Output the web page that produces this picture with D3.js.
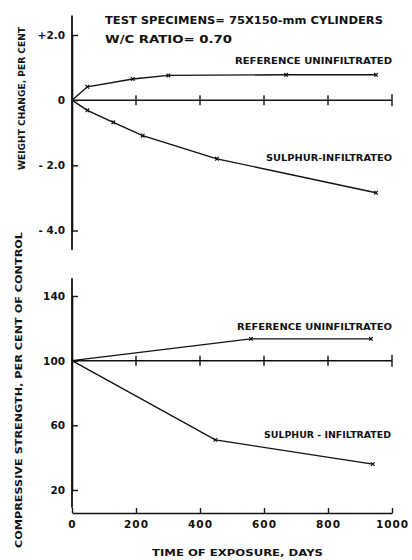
<!DOCTYPE html>
<html>
<head>
<meta charset="utf-8">
<script src="https://cdn.jsdelivr.net/npm/d3@7/dist/d3.min.js"></script>
<style>
  body { margin: 0; background: #fff; }
  svg { display: block; }
  text { font-family: "DejaVu Sans", sans-serif; font-weight: bold; fill: #111; }
</style>
</head>
<body>
<div id="chart"></div>
<script>
'use strict';

// 重量变化 (上图)
const weightRefDays = [0, 48, 190, 301, 669, 950];
const weightRefValues = [0, 0.41, 0.65, 0.76, 0.78, 0.78];
const weightSulDays = [0, 48, 129, 221, 453, 950];
const weightSulValues = [0, -0.31, -0.68, -1.09, -1.80, -2.84];

// 抗压强度 (下图)
const strengthRefDays = [0, 559, 934];
const strengthRefValues = [100, 113.5, 113.5];
const strengthSulDays = [0, 448, 940];
const strengthSulValues = [100, 51, 36];

const xTicks = [0, 200, 400, 600, 800, 1000];
const weightTicks = [2, 0, -2, -4];
const weightTickLabels = ['+2.0', '0', '- 2.0', '- 4.0'];
const strengthTicks = [140, 100, 60, 20];

(function () {
    const width = 412;
    const height = 560;

    var svg = d3.select('#chart').append('svg')
        .attr('width', width)
        .attr('height', height);

    var x = d3.scaleLinear().domain([0, 1000]).range([72, 392]);
    var yTop = d3.scaleLinear().domain([-4, 2]).range([230.5, 35]);
    var yBot = d3.scaleLinear().domain([20, 140]).range([490, 296]);

    // 坐标轴竖线
    vLine(x(0), yTop(2.6), yTop(-4.6));
    vLine(x(0), yBot(151), yBot(9));

    // y 轴刻度
    var topAxis = d3.axisLeft(yTop)
        .tickValues(weightTicks)
        .tickSizeInner(-6)
        .tickSizeOuter(0)
        .tickPadding(7)
        .tickFormat(function (d, i) { return weightTickLabels[i]; });
    var gTop = svg.append('g').attr('transform', 'translate(' + x(0) + ',0)').call(topAxis);
    styleAxis(gTop);

    var botAxis = d3.axisLeft(yBot)
        .tickValues(strengthTicks)
        .tickSizeInner(-6)
        .tickSizeOuter(0)
        .tickPadding(7);
    var gBot = svg.append('g').attr('transform', 'translate(' + x(0) + ',0)').call(botAxis);
    styleAxis(gBot);

    // x 轴
    var xAxis = d3.axisBottom(x)
        .tickValues(xTicks)
        .tickSizeInner(-5)
        .tickSizeOuter(0)
        .tickPadding(8)
        .tickFormat(d3.format('d'));
    var gX = svg.append('g').attr('transform', 'translate(0,513)').call(xAxis);
    styleAxis(gX);
    gX.selectAll('.tick text').attr('letter-spacing', '1px');

    // 零线 / 100 线 带刻度
    baseLine(yTop(0));
    baseLine(yBot(100));

    // 数据线
    series(weightRefDays, weightRefValues, yTop);
    series(weightSulDays, weightSulValues, yTop);
    series(strengthRefDays, strengthRefValues, yBot);
    series(strengthSulDays, strengthSulValues, yBot);

    // 文字
    label('TEST SPECIMENS= 75X150-mm CYLINDERS', 105, 24, 10, 278);
    label('W/C RATIO= 0.70', 105, 43, 10, 127);
    label('REFERENCE  UNINFILTRATED', 235, 64, 8, 157);
    label('SULPHUR-INFILTRATEO', 266, 161, 8.5, 126);
    label('REFERENCE  UNINFILTRATEO', 237, 330, 8, 155);
    label('SULPHUR - INFILTRATED', 264, 438, 8.5, 127);
    label('TIME OF EXPOSURE, DAYS', 152, 556, 8.5, 171);

    svg.append('text')
        .attr('transform', 'translate(25,170) rotate(-90)')
        .attr('font-size', 9)
        .attr('textLength', 143)
        .attr('lengthAdjust', 'spacingAndGlyphs')
        .text('WEIGHT CHANGE, PER CENT');

    svg.append('text')
        .attr('transform', 'translate(22,548) rotate(-90)')
        .attr('font-size', 9)
        .attr('textLength', 316)
        .attr('lengthAdjust', 'spacingAndGlyphs')
        .text('COMPRESSIVE STRENGTH, PER CENT OF CONTROL');

    function styleAxis(g) {
        g.select('.domain').attr('stroke', '#111').attr('stroke-width', 1.6);
        g.selectAll('.tick line').attr('stroke', '#111').attr('stroke-width', 1.4);
        g.selectAll('.tick text')
            .attr('fill', '#111')
            .style('font-family', '"DejaVu Sans", sans-serif')
            .style('font-weight', 'bold')
            .style('font-size', '10.5px');
    }

    function vLine(px, y1, y2) {
        svg.append('line')
            .attr('x1', px).attr('x2', px)
            .attr('y1', y1).attr('y2', y2)
            .attr('stroke', '#111').attr('stroke-width', 1.8);
    }

    function baseLine(py) {
        svg.append('line')
            .attr('x1', x(0)).attr('x2', x(1000))
            .attr('y1', py).attr('y2', py)
            .attr('stroke', '#111').attr('stroke-width', 1.5);
        xTicks.slice(1).forEach(function (t) {
            var h = t === 1000 ? 6 : 5;
            svg.append('line')
                .attr('x1', x(t)).attr('x2', x(t))
                .attr('y1', py - h).attr('y2', py + h)
                .attr('stroke', '#111').attr('stroke-width', 1.4);
        });
    }

    function series(days, values, yScale) {
        var pts = days.map(function (d, i) { return [x(d), yScale(values[i])]; });
        svg.append('path')
            .attr('d', d3.line()(pts))
            .attr('fill', 'none')
            .attr('stroke', '#111')
            .attr('stroke-width', 1.4);
        pts.slice(1).forEach(function (p) {
            var s = 1.8;
            svg.append('path')
                .attr('d', 'M' + (p[0] - s) + ',' + (p[1] - s) + 'L' + (p[0] + s) + ',' + (p[1] + s) +
                    'M' + (p[0] + s) + ',' + (p[1] - s) + 'L' + (p[0] - s) + ',' + (p[1] + s))
                .attr('stroke', '#111')
                .attr('stroke-width', 1.2);
        });
    }

    function label(txt, px, py, size, len) {
        svg.append('text')
            .attr('x', px).attr('y', py)
            .attr('font-size', size)
            .attr('textLength', len)
            .attr('lengthAdjust', 'spacingAndGlyphs')
            .text(txt);
    }
})();
</script>
</body>
</html>
